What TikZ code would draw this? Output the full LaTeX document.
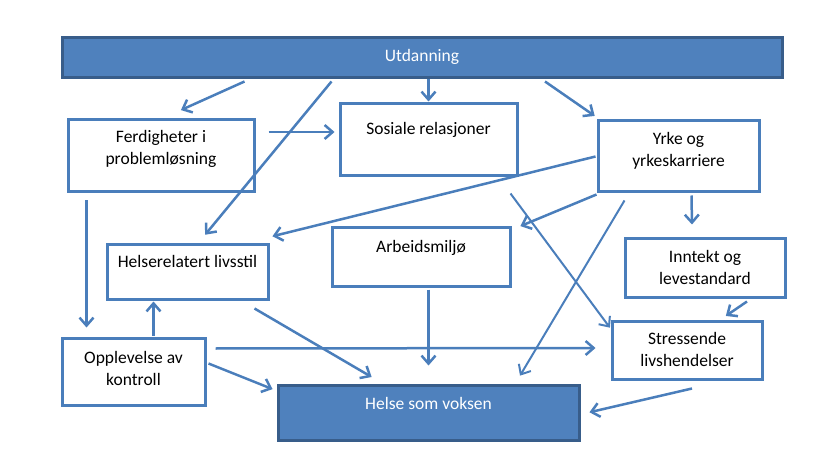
\documentclass[tikz,border=0pt]{standalone}
\usepackage{fontspec}
\setmainfont{Carlito}
\usepackage{tikz}
\usepackage{xcolor}
\usetikzlibrary{arrows.meta}
\usetikzlibrary{calc,positioning}
\definecolor{colorLine}{HTML}{4A7EBB}
\definecolor{colorMain}{HTML}{4F81BD}
\definecolor{colorDark}{HTML}{385D8A}
\def\colorLine{colorLine}
\def\colorMain{colorMain}
\def\colorDark{colorDark}
\tikzset{
  box/.style={draw=\colorLine, line width=3pt, fill=white, inner sep=0pt,
    align=center, font=\fontsize{17.5pt}{22pt}\selectfont},
  bluebox/.style={box, draw=\colorDark, fill=\colorMain, text=white},
  arr/.style={-{Straight Barb[length=8pt,width=14pt]}, draw=\colorLine,
    line width=2.5pt, shorten >=1pt},
}

\begin{document}
\begin{tikzpicture}[x=1pt, y=-1pt]

  \useasboundingbox (0,0) rectangle (832,462);

  % Boksene
  \node[bluebox, minimum width=720pt, text height=24pt, text depth=16pt] (utd) at (422,58) {Utdanning};
  \node[box, minimum width=186pt, text height=45pt, text depth=27pt] (ferd) at (161,156) {Ferdigheter i\\problemløsning};
  \node[box, minimum width=177pt, text height=31pt, text depth=41pt] (sos) at (428.5,140) {Sosiale relasjoner};
  \node[box, minimum width=161pt, text height=46pt, text depth=25pt] (yrke) at (678.5,156.5) {Yrke og\\yrkeskarriere};
  \node[box, minimum width=161pt, text height=23pt, text depth=31pt] (hel) at (187.5,272) {Helserelatert livsstil};
  \node[box, minimum width=178pt, text height=25pt, text depth=33pt] (arb) at (421,257) {Arbeidsmiljø};
  \node[box, minimum width=160pt, text height=45pt, text depth=13pt] (inn) at (705,268) {Inntekt og\\levestandard};
  \node[box, minimum width=150pt, text height=45pt, text depth=13pt] (str) at (687,350) {Stressende\\livshendelser};
  \node[box, minimum width=143pt, text height=47pt, text depth=20pt] (opp) at (133.5,371.5) {Opplevelse av\\kontroll};
  \node[bluebox, minimum width=301pt, text height=24pt, text depth=31pt] (helse) at (428.5,412.5) {Helse som voksen};

  % Fra utdanning
  \draw[arr] ($(utd.south west)+(184,2)$) -- ($(ferd.north)+(19,-8)$);
  \draw[arr] ($(utd.south west)+(271,2)$) -- ($(hel.north)+(17,-8)$);
  \draw[arr] (utd.south -| sos.north) -- (sos.north);
  \draw[arr] ($(utd.south)+(123,2)$) -- ($(yrke.north west)+(-1,-3)$);

  % Ferdigheter
  \coordinate (fright) at ($(ferd.east)+(13,-24)$);
  \draw[arr] (fright) -- ($(sos.west |- fright)+(-3,0)$);
  \draw[arr] ($(ferd.south west)+(20,7)$) -- ($(opp.north west)+(26,-8)$);

  % Opplevelse av kontroll
  \coordinate (oup) at ($(opp.north)+(20,-1)$);
  \draw[arr] (oup) -- (oup |- hel.south);
  \draw[arr] ($(opp.east)+(2,-8)$) -- ($(helse.west)+(-3,-23)$);
  \draw[arr] ($(opp.east)+(9,-23)$) -- ($(str.west)+(-14,-2)$);

  % Livsstil og arbeidsmiljø
  \draw[arr] ($(hel.south east)+(-15,8)$) -- ($(helse.north)+(-56,-6)$);
  \coordinate (adown) at ($(arb.south -| helse.north)+(0,2)$);
  \draw[arr] (adown) -- ($(helse.north)+(0,-17)$);

  % Yrke
  \draw[arr] ($(yrke.west)+(-1,0)$) -- ($(hel.north east)+(2,-7)$);
  \draw[arr] ($(yrke.south west)+(0,1)$) -- ($(arb.north east)+(8,0)$);
  \draw[arr] ($(yrke.south)+(13,2)$) -- ($(inn.north)+(-13,-12)$);
  \draw[arr, line width=2pt] ($(yrke.south west)+(28,7)$) -- ($(helse.north east)+(-61,-7)$);

  % Sosiale relasjoner
  \draw[arr, line width=2pt] ($(sos.south east)+(-8,16)$) -- ($(str.north west)+(0,9)$);

  % Inntekt og stress
  \draw[arr] ($(inn.south)+(42,3)$) -- ($(str.north)+(38,-3)$);
  \draw[arr] ($(str.south)+(5,8)$) -- ($(helse.east)+(8,0)$);

\end{tikzpicture}
\end{document}
